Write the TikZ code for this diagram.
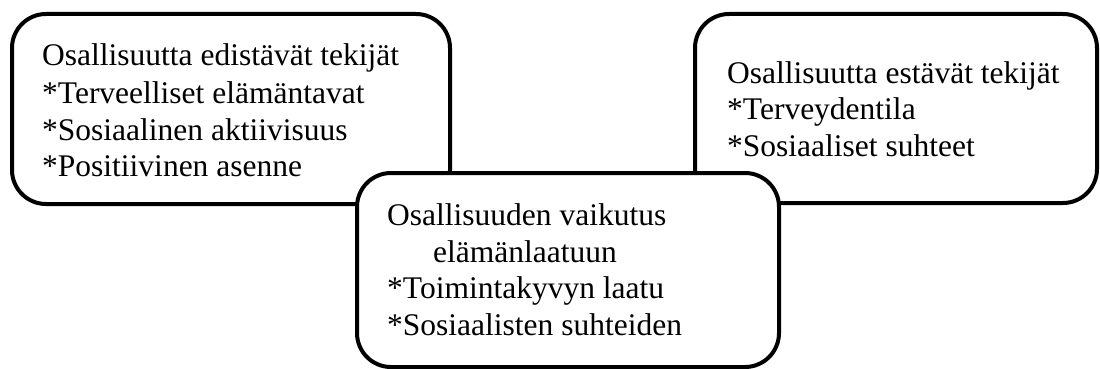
\documentclass[tikz,border=0pt]{standalone}
\usepackage{fontspec}
\setmainfont{Liberation Serif}
\tikzset{
  box/.style={draw=black, line width=4pt, rounded corners=34pt, fill=white},
  txt/.style={anchor=base west, inner sep=0pt, font=\fontsize{31.5}{36}\selectfont}
}
\begin{document}
\begin{tikzpicture}[x=1pt,y=-1pt]
\useasboundingbox (0,0) rectangle (1100,369);
% left box: promoting factors
\draw[box] (12,14) rectangle (450,204);
\node[txt] (a1) at (42,66) {Osallisuutta edistävät tekijät};
\node[txt] (a2) at (42,103) {*Terveelliset elämäntavat};
\node[txt] (a3) at (42,140) {*Sosiaalinen aktiivisuus};
\node[txt] (a4) at (42,176) {*Positiivinen asenne};
% right box: hindering factors
\draw[box] (695,14) rectangle (1097,203);
\node[txt] (b1) at (727,83) {Osallisuutta estävät tekijät};
\node[txt] (b2) at (727,119) {*Terveydentila};
\node[txt] (b3) at (727,156) {*Sosiaaliset suhteet};
% middle box drawn last, on top
\draw[box] (357,173) rectangle (779,367);
\node[txt] (c1) at (387,225) {Osallisuuden vaikutus};
\node[txt] (c2) at (433,262) {elämänlaatuun};
\node[txt] (c3) at (387,298) {*Toimintakyvyn laatu};
\node[txt] (c4) at (387,335) {*Sosiaalisten suhteiden};
\end{tikzpicture}
\end{document}
